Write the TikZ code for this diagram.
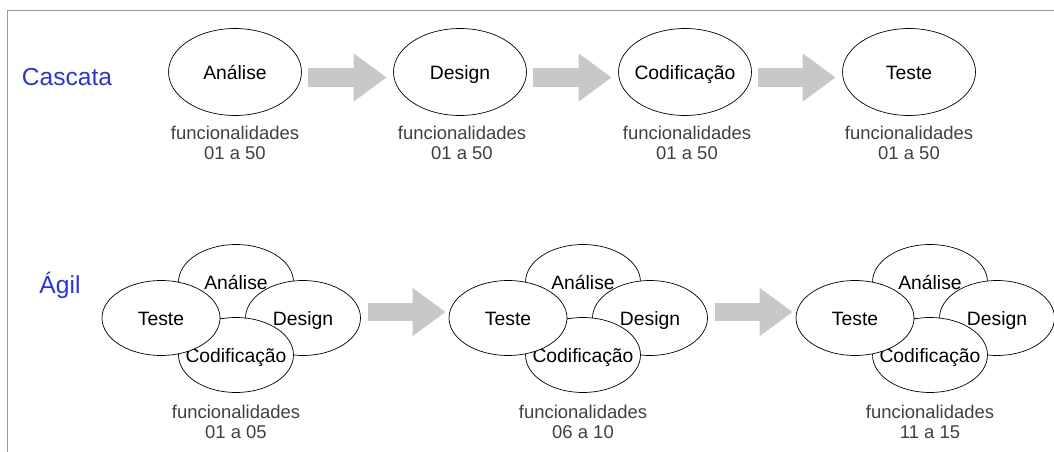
\documentclass[tikz,border=0pt]{standalone}
\usepackage{fontspec}
\setmainfont{Liberation Sans}
\usetikzlibrary{shapes.geometric, arrows.meta, positioning}

\definecolor{azul}{HTML}{2B36D2}
\definecolor{seta}{HTML}{C8C8C8}
\definecolor{texto}{HTML}{404040}

% texto sem largura, para a elipse ficar com o tamanho mínimo
\newcommand{\nomefase}[1]{\makebox[0pt]{#1}}

\begin{document}
\begin{tikzpicture}[x=0.02cm, y=-0.02cm,
    fase/.style     = {ellipse, draw=black, fill=white, thin, inner sep=0pt,
                       text height=9pt, text depth=1pt,
                       minimum width=2.66cm, minimum height=1.74cm, font=\fontsize{11}{13}\selectfont},
    miniciclo/.style = {ellipse, draw=black, fill=white, thin, inner sep=0pt,
                       text height=9pt, text depth=1pt,
                       minimum width=2.3cm, minimum height=1.5cm, font=\fontsize{11}{13}\selectfont},
    funcs/.style    = {align=center, text=texto, font=\fontsize{10.5}{11.4}\selectfont},
    modelo/.style   = {text=azul, font=\fontsize{14}{16}\selectfont},
    seta/.style     = {draw=seta, line width=0.38cm,
                       -{Triangle[length=0.66cm, width=0.92cm, fill=seta]}},
]
\useasboundingbox (0,0) rectangle (1054,452);

% Moldura
\draw[gray!80] (7,452) -- (7,10) -- (1054,10);

% Modelos
\node[modelo] (cascata) at (67,77) {Cascata};
\node[modelo] (agil) at (60,285) {Ágil};

% Cascata
\node[fase] (a1) at (235,72) {\nomefase{Análise}};
\node[fase] (d1) at (460,72) {\nomefase{Design}};
\node[fase] (c1) at (685,72) {\nomefase{Codificação}};
\node[fase] (t1) at (909,72) {\nomefase{Teste}};

\node[funcs] (fa1) at (235,143) {funcionalidades\\01 a 50};
\node[funcs] (fd1) at (462,143) {funcionalidades\\01 a 50};
\node[funcs] (fc1) at (687,143) {funcionalidades\\01 a 50};
\node[funcs] (ft1) at (909,143) {funcionalidades\\01 a 50};

\draw[seta, shorten <=0.13cm, shorten >=0.13cm] ([yshift=-0.11cm]a1.east) -- ([yshift=-0.11cm]d1.west);
\draw[seta, shorten <=0.13cm, shorten >=0.13cm] ([yshift=-0.11cm]d1.east) -- ([yshift=-0.11cm]c1.west);
\draw[seta, shorten <=0.13cm, shorten >=0.13cm] ([yshift=-0.11cm]c1.east) -- ([yshift=-0.11cm]t1.west);

% Ágil - iteração 1
\node[miniciclo] (an1) at (236,282) {\nomefase{Análise}};
\node[miniciclo] (de1) at (303,318) {\nomefase{Design}};
\node[miniciclo] (co1) at (236,355) {\nomefase{Codificação}};
\node[miniciclo, minimum width=2.36cm] (te1) at (161,318) {\nomefase{Teste}};
\node[funcs] (it1) at (236,422) {funcionalidades\\01 a 05};

% Ágil - iteração 2
\node[miniciclo] (an2) at (583,282) {\nomefase{Análise}};
\node[miniciclo] (de2) at (650,318) {\nomefase{Design}};
\node[miniciclo] (co2) at (583,355) {\nomefase{Codificação}};
\node[miniciclo, minimum width=2.36cm] (te2) at (508,318) {\nomefase{Teste}};
\node[funcs] (it2) at (583,422) {funcionalidades\\06 a 10};

% Ágil - iteração 3
\node[miniciclo] (an3) at (930,282) {\nomefase{Análise}};
\node[miniciclo] (de3) at (997,318) {\nomefase{Design}};
\node[miniciclo] (co3) at (930,355) {\nomefase{Codificação}};
\node[miniciclo, minimum width=2.36cm] (te3) at (855,318) {\nomefase{Teste}};
\node[funcs] (it3) at (930,422) {funcionalidades\\11 a 15};

\draw[seta, shorten <=0.15cm, shorten >=0.06cm] ([yshift=0.12cm]de1.east) -- ([yshift=0.12cm]te2.west);
\draw[seta, shorten <=0.15cm, shorten >=0.06cm] ([yshift=0.12cm]de2.east) -- ([yshift=0.12cm]te3.west);

\end{tikzpicture}
\end{document}
